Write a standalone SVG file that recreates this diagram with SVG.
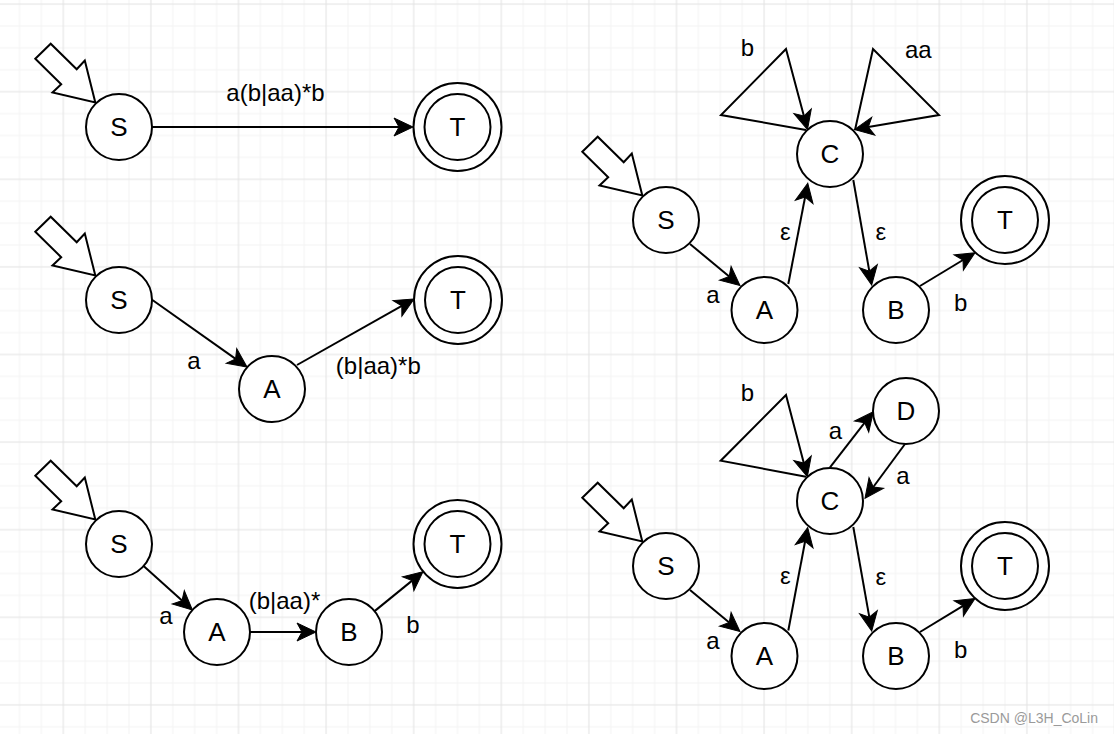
<svg xmlns="http://www.w3.org/2000/svg" width="1114" height="734" viewBox="0 0 1114 734">
<style>
.node circle{fill:#fff;stroke:#000;stroke-width:2}
.nl{font-family:"Liberation Sans",Arial,sans-serif;font-size:26px;text-anchor:middle;fill:#000}
.el{font-family:"Liberation Sans",Arial,sans-serif;font-size:24px;text-anchor:middle;fill:#000}
.edge{fill:none;stroke:#000;stroke-width:2;marker-end:url(#arr)}
.loop{fill:none;stroke:#000;stroke-width:2;stroke-linejoin:miter;stroke-miterlimit:10;marker-end:url(#arr)}
.start{fill:#fff;stroke:#000;stroke-width:2;stroke-linejoin:miter}
.wm{font-family:"Liberation Sans",Arial,sans-serif;font-size:14px;text-anchor:end;fill:#9a9a9a}
</style>
<defs>
<pattern id="grid" patternUnits="userSpaceOnUse" x="8.55" y="36.95" width="87.6" height="87.6">
<path d="M10.95 0V87.6M32.85 0V87.6M76.65 0V87.6M0 10.95H87.6M0 32.85H87.6M0 76.65H87.6" stroke="#f4f4f4" stroke-width="1"/>
<path d="M54.75 0V87.6M0 54.75H87.6" stroke="#e2e2e2" stroke-width="1"/>
</pattern>
<marker id="arr" markerUnits="userSpaceOnUse" markerWidth="22" markerHeight="22" viewBox="0 -11 22 22" refX="5" refY="0" orient="auto" overflow="visible">
<path d="M19 0L0 -9L5 0L0 9Z" fill="#000" stroke="#000" stroke-width="1"/>
</marker>
<polygon id="startArrow" class="start" points="-83.7,-68.2 -68.3,-83.3 -42.3,-57.7 -34.2,-66.5 -23.7,-24.5 -66.5,-34.5 -57.8,-42.8"/>
</defs>
<rect width="1114" height="734" fill="#fff"/>
<rect width="1114" height="734" fill="url(#grid)"/>

<g id="connectors">
<path class="edge" d="M152 127L399 127"/>
<path class="edge" d="M151 299L235.6 358.9"/>
<path class="edge" d="M297 365L401.8 305.9"/>
<path class="edge" d="M143.6 566L182 600.6"/>
<path class="edge" d="M250 632L302 632"/>
<path class="edge" d="M374.6 611.1L412.1 580.6"/>
<path class="edge" d="M690 244L729.2 276.5"/>
<path class="edge" d="M788.3 284L805.1 197"/>
<path class="edge" d="M853.3 180L869.3 271.2"/>
<path class="edge" d="M920 286L963 260"/>
<path class="loop" d="M806 130L721 115L786 49L803.9 116"/>
<path class="loop" d="M855 130L873 49L939 115L868.3 127.1"/>
<path class="edge" d="M690 590L729.2 622.5"/>
<path class="edge" d="M788.3 630.5L805.1 541.3"/>
<path class="edge" d="M853.3 527L869.3 617.2"/>
<path class="edge" d="M920 632L963 605.8"/>
<path class="edge" d="M830 467.3L864.7 422.7"/>
<path class="edge" d="M905 444L873.3 487"/>
<path class="loop" d="M806 476.7L720.7 460.7L786 395L803.8 463.1"/>
</g>

<g id="edge-labels">
<text class="el" x="275.5" y="101">a(b|aa)*b</text>
<text class="el" x="194" y="369">a</text>
<text class="el" x="378.3" y="374">(b|aa)*b</text>
<text class="el" x="284.5" y="609">(b|aa)*</text>
<text class="el" x="166" y="624">a</text>
<text class="el" x="413" y="633">b</text>
<text class="el" x="747.5" y="56">b</text>
<text class="el" x="918.3" y="58">aa</text>
<text class="el" x="713" y="303">a</text>
<text class="el" x="785.3" y="240">ε</text>
<text class="el" x="880.8" y="240">ε</text>
<text class="el" x="960.8" y="311">b</text>
<text class="el" x="747.5" y="401">b</text>
<text class="el" x="835.5" y="439">a</text>
<text class="el" x="903" y="484">a</text>
<text class="el" x="713" y="649">a</text>
<text class="el" x="785.3" y="584">ε</text>
<text class="el" x="880.8" y="585">ε</text>
<text class="el" x="960.8" y="658">b</text>
</g>

<g id="p1-start"><use href="#startArrow" x="119" y="127"/></g>
<g id="p1-S" class="node"><circle cx="119" cy="127" r="33"/><text class="nl" x="119" y="136">S</text></g>
<g id="p1-T" class="node"><circle cx="457.5" cy="127" r="44"/><circle cx="457.5" cy="127" r="33"/><text class="nl" x="457.5" y="136">T</text></g>

<g id="p2-start"><use href="#startArrow" x="119" y="300"/></g>
<g id="p2-S" class="node"><circle cx="119" cy="300" r="33"/><text class="nl" x="119" y="309">S</text></g>
<g id="p2-A" class="node"><circle cx="272" cy="389" r="33"/><text class="nl" x="272" y="398">A</text></g>
<g id="p2-T" class="node"><circle cx="458" cy="300" r="44"/><circle cx="458" cy="300" r="33"/><text class="nl" x="458" y="309">T</text></g>

<g id="p3-start"><use href="#startArrow" x="119" y="544"/></g>
<g id="p3-S" class="node"><circle cx="119" cy="544" r="33"/><text class="nl" x="119" y="553">S</text></g>
<g id="p3-A" class="node"><circle cx="217" cy="632" r="33"/><text class="nl" x="217" y="641">A</text></g>
<g id="p3-B" class="node"><circle cx="349" cy="632" r="33"/><text class="nl" x="349" y="641">B</text></g>
<g id="p3-T" class="node"><circle cx="457.5" cy="544" r="44"/><circle cx="457.5" cy="544" r="33"/><text class="nl" x="457.5" y="553">T</text></g>

<g id="p4-start"><use href="#startArrow" x="666" y="220"/></g>
<g id="p4-S" class="node"><circle cx="666" cy="220" r="33"/><text class="nl" x="666" y="229">S</text></g>
<g id="p4-A" class="node"><circle cx="764.5" cy="310" r="33"/><text class="nl" x="764.5" y="319">A</text></g>
<g id="p4-C" class="node"><circle cx="830" cy="154" r="33"/><text class="nl" x="830" y="163">C</text></g>
<g id="p4-B" class="node"><circle cx="896" cy="310" r="33"/><text class="nl" x="896" y="319">B</text></g>
<g id="p4-T" class="node"><circle cx="1005" cy="220" r="44"/><circle cx="1005" cy="220" r="33"/><text class="nl" x="1005" y="229">T</text></g>

<g id="p5-start"><use href="#startArrow" x="666" y="566"/></g>
<g id="p5-S" class="node"><circle cx="666" cy="566" r="33"/><text class="nl" x="666" y="575">S</text></g>
<g id="p5-A" class="node"><circle cx="764.5" cy="656" r="33"/><text class="nl" x="764.5" y="665">A</text></g>
<g id="p5-C" class="node"><circle cx="830" cy="501" r="33"/><text class="nl" x="830" y="510">C</text></g>
<g id="p5-D" class="node"><circle cx="906" cy="411" r="33"/><text class="nl" x="906" y="420">D</text></g>
<g id="p5-B" class="node"><circle cx="896" cy="656" r="33"/><text class="nl" x="896" y="665">B</text></g>
<g id="p5-T" class="node"><circle cx="1005" cy="566" r="44"/><circle cx="1005" cy="566" r="33"/><text class="nl" x="1005" y="575">T</text></g>

<text class="wm" x="1098" y="723">CSDN @L3H_CoLin</text>
</svg>
